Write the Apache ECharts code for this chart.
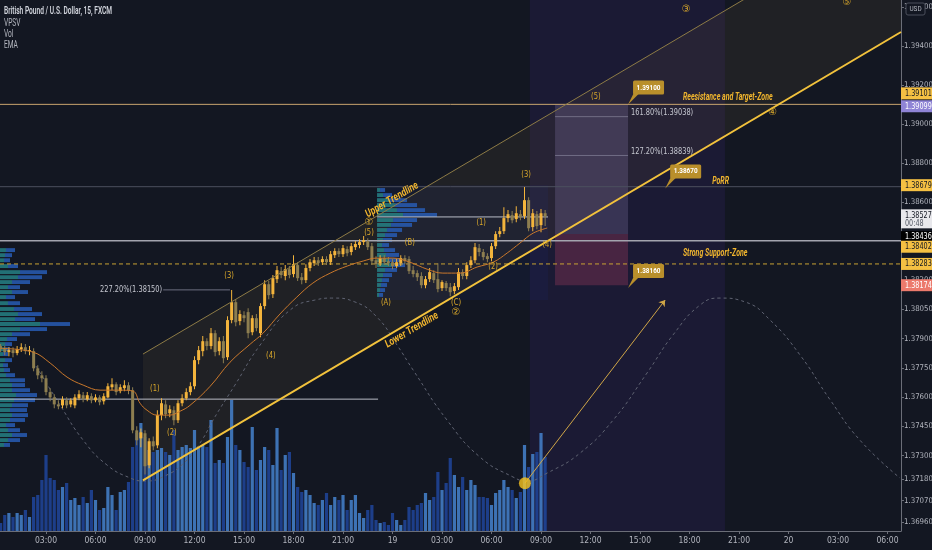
<!DOCTYPE html>
<html>
<head>
<meta charset="utf-8">
<script src="https://cdn.jsdelivr.net/npm/echarts@6/dist/echarts.min.js"></script>
<style>
  html, body { margin: 0; padding: 0; background: #131722; }
  #chart { width: 932px; height: 550px; }
</style>
</head>
<body>
<div id="chart"></div>
<script>
// GBP/USD, 15-minute bars. Bar index = quarter hours since 00:00 on the 18th.
// Each bar: [open, high, low, close]
const bars15m = [
  [1.37851,1.37877,1.37836,1.37862],[1.37862,1.37872,1.37831,1.37846],[1.37846,1.37862,1.37815,1.37831],
  [1.37831,1.37856,1.37810,1.37841],[1.37841,1.37856,1.37805,1.37826],[1.37826,1.37862,1.37815,1.37846],
  [1.37846,1.37877,1.37831,1.37856],[1.37856,1.37872,1.37820,1.37836],[1.37836,1.37862,1.37815,1.37841],
  [1.37836,1.37851,1.37733,1.37748],[1.37748,1.37764,1.37692,1.37712],[1.37712,1.37733,1.37677,1.37697],
  [1.37697,1.37712,1.37610,1.37626],[1.37626,1.37646,1.37579,1.37599],[1.37599,1.37615,1.37543,1.37563],
  [1.37563,1.37584,1.37538,1.37553],[1.37558,1.37605,1.37543,1.37589],[1.37584,1.37599,1.37543,1.37558],
  [1.37563,1.37594,1.37548,1.37584],[1.37558,1.37615,1.37543,1.37599],[1.37594,1.37636,1.37584,1.37615],
  [1.37610,1.37626,1.37574,1.37589],[1.37589,1.37626,1.37579,1.37610],[1.37605,1.37620,1.37569,1.37584],
  [1.37584,1.37615,1.37574,1.37599],[1.37599,1.37610,1.37558,1.37574],[1.37579,1.37620,1.37563,1.37605],
  [1.37599,1.37672,1.37594,1.37656],[1.37651,1.37697,1.37636,1.37666],[1.37666,1.37677,1.37610,1.37626],
  [1.37631,1.37666,1.37620,1.37651],[1.37646,1.37687,1.37631,1.37661],[1.37661,1.37677,1.37615,1.37636],
  [1.37636,1.37651,1.37415,1.37430],[1.37430,1.37451,1.37353,1.37379],[1.37389,1.37440,1.37343,1.37420],
  [1.37415,1.37430,1.37204,1.37246],[1.37251,1.37389,1.37236,1.37374],[1.37374,1.37399,1.37328,1.37348],
  [1.37353,1.37533,1.37338,1.37508],[1.37508,1.37594,1.37482,1.37569],[1.37563,1.37584,1.37492,1.37513],
  [1.37518,1.37558,1.37497,1.37538],[1.37533,1.37553,1.37456,1.37482],[1.37482,1.37584,1.37467,1.37569],
  [1.37569,1.37615,1.37553,1.37594],[1.37594,1.37646,1.37584,1.37626],[1.37626,1.37677,1.37610,1.37656],
  [1.37656,1.37810,1.37641,1.37790],[1.37790,1.37862,1.37769,1.37841],[1.37836,1.37913,1.37810,1.37887],
  [1.37887,1.37902,1.37841,1.37862],[1.37862,1.37954,1.37846,1.37928],[1.37928,1.37943,1.37810,1.37831],
  [1.37836,1.37907,1.37815,1.37887],[1.37887,1.37913,1.37774,1.37800],[1.37805,1.38015,1.37790,1.37995],
  [1.37995,1.38149,1.37979,1.38087],[1.38087,1.38102,1.37964,1.37984],[1.37990,1.38046,1.37969,1.38026],
  [1.38020,1.38041,1.37984,1.38005],[1.38036,1.38056,1.37902,1.37928],[1.37933,1.38020,1.37918,1.38005],
  [1.38005,1.38026,1.37938,1.37954],[1.37928,1.38082,1.37907,1.38067],[1.38067,1.38200,1.38051,1.38179],
  [1.38179,1.38195,1.38102,1.38123],[1.38128,1.38226,1.38108,1.38210],[1.38205,1.38272,1.38185,1.38251],
  [1.38246,1.38267,1.38210,1.38226],[1.38221,1.38277,1.38200,1.38256],[1.38256,1.38272,1.38210,1.38226],
  [1.38231,1.38328,1.38215,1.38282],[1.38277,1.38292,1.38195,1.38210],[1.38215,1.38236,1.38179,1.38200],
  [1.38200,1.38282,1.38185,1.38262],[1.38262,1.38308,1.38246,1.38292],[1.38287,1.38318,1.38272,1.38302],
  [1.38302,1.38318,1.38272,1.38287],[1.38292,1.38323,1.38277,1.38308],[1.38308,1.38323,1.38277,1.38292],
  [1.38292,1.38349,1.38277,1.38333],[1.38328,1.38364,1.38313,1.38349],[1.38349,1.38364,1.38318,1.38333],
  [1.38333,1.38380,1.38318,1.38364],[1.38359,1.38374,1.38323,1.38338],[1.38344,1.38390,1.38328,1.38374],
  [1.38369,1.38400,1.38354,1.38385],[1.38380,1.38410,1.38364,1.38395],[1.38395,1.38426,1.38380,1.38405],
  [1.38400,1.38415,1.38354,1.38369],[1.38374,1.38390,1.38277,1.38297],[1.38302,1.38323,1.38262,1.38282],
  [1.38287,1.38328,1.38272,1.38313],[1.38313,1.38328,1.38277,1.38292],[1.38297,1.38318,1.38272,1.38287],
  [1.38292,1.38308,1.38256,1.38272],[1.38272,1.38308,1.38262,1.38292],[1.38287,1.38328,1.38272,1.38313],
  [1.38313,1.38328,1.38282,1.38297],[1.38308,1.38323,1.38231,1.38246],[1.38251,1.38272,1.38215,1.38231],
  [1.38236,1.38251,1.38195,1.38215],[1.38221,1.38241,1.38159,1.38174],[1.38174,1.38221,1.38159,1.38205],
  [1.38205,1.38262,1.38190,1.38241],[1.38236,1.38251,1.38185,1.38200],[1.38205,1.38287,1.38138,1.38154],
  [1.38159,1.38200,1.38144,1.38190],[1.38185,1.38195,1.38144,1.38159],[1.38164,1.38185,1.38118,1.38138],
  [1.38144,1.38185,1.38128,1.38169],[1.38164,1.38262,1.38149,1.38241],[1.38241,1.38256,1.38205,1.38221],
  [1.38221,1.38292,1.38205,1.38277],[1.38277,1.38323,1.38262,1.38302],[1.38302,1.38390,1.38287,1.38369],
  [1.38364,1.38385,1.38323,1.38344],[1.38344,1.38359,1.38302,1.38318],[1.38323,1.38338,1.38292,1.38308],
  [1.38313,1.38390,1.38297,1.38374],[1.38374,1.38451,1.38359,1.38436],[1.38436,1.38472,1.38420,1.38451],
  [1.38451,1.38574,1.38436,1.38518],[1.38518,1.38559,1.38497,1.38538],[1.38533,1.38554,1.38492,1.38507],
  [1.38513,1.38579,1.38497,1.38543],[1.38538,1.38559,1.38507,1.38523],[1.38528,1.38677,1.38513,1.38610],
  [1.38610,1.38625,1.38451,1.38466],[1.38472,1.38564,1.38451,1.38543],[1.38538,1.38554,1.38461,1.38477],
  [1.38482,1.38564,1.38446,1.38543],[1.38543,1.38559,1.38477,1.38527]
];

// Tick volume per bar
const volumes = [
  110,80,160,180,140,180,160,210,140,340,360,510,760,530,510,410,440,480,310,330,
  260,340,280,410,310,210,230,440,360,210,390,410,490,840,980,1080,940,810,790,810,
  830,790,760,1010,810,840,860,830,1010,830,860,840,1110,680,710,680,940,1310,860,810,
  690,640,1040,610,710,840,810,660,1030,610,760,790,580,440,390,410,360,280,260,310,
  380,260,340,310,360,210,310,360,180,130,210,260,110,80,90,60,180,110,60,110,
  240,210,260,280,380,310,340,590,410,480,730,560,440,540,410,510,460,340,340,330,
  260,380,410,510,440,410,330,390,860,640,770,790,980,740
];

// EMA readings [bar index, price]
const emaPoints = [
  [1,1.37850],[8.85,1.37831],[13,1.37775],[17.1,1.37703],[21,1.37662],[25.1,1.37636],[29.9,1.37636],
  [33.1,1.37631],[34.8,1.37569],[36.5,1.37533],[38.9,1.37508],[42,1.37508],[44.5,1.37528],[46.9,1.37558],
  [51.8,1.37656],[56.6,1.37779],[61.5,1.37872],[64.6,1.37928],[68.7,1.38026],[72.8,1.38113],[76.7,1.38185],
  [80.9,1.38236],[85,1.38272],[88.9,1.38298],[92.2,1.38313],[96.1,1.38313],[100.2,1.38292],[104.4,1.38256],
  [108.2,1.38236],[112.4,1.38236],[116.5,1.38267],[120.4,1.38292],[123.8,1.38339],[126.9,1.38390],
  [130.1,1.38441],[133.5,1.38467]
];

// Cycle (sine wave) drawing, read as [bar index, price]
const cyclePoints = [
  [8.85,1.37785],[15.4,1.37560],[21,1.37380],[26.8,1.37252],[32.4,1.37186],[36,1.37170],[40.8,1.37196],
  [45.7,1.37268],[49.8,1.37380],[52.5,1.37483],[57.8,1.37662],[63.9,1.37867],[71.2,1.38047],[77.2,1.38098],
  [81.6,1.38108],[86.9,1.38088],[92.2,1.38011],[97.1,1.37867],[101,1.37739],[109.2,1.37483],[117.2,1.37293],
  [125.2,1.37191],[128.6,1.37170],[133.5,1.37211],[141.5,1.37314],[149.5,1.37483],[157.7,1.37724],
  [164,1.37919],[170.6,1.38073],[175.4,1.38108],[181.5,1.38088],[187.5,1.37996],[194.8,1.37816],
  [202.1,1.37586],[209.3,1.37380],[219,1.37186]
];

// Axis ticks
const priceTicks = [1.396,1.394,1.392,1.390,1.388,1.386,1.384,1.382,1.3805,1.379,1.3775,1.376,1.3745,1.373,1.3718,1.3707,1.3696];
const timeTicks = [12,24,36,48,60,72,84,96,108,120,132,144,156,168,180,192,204,216];
const timeTickLabels = ['03:00','06:00','09:00','12:00','15:00','18:00','21:00','19','03:00','06:00','09:00','12:00','15:00','18:00','21:00','20','03:00','06:00'];

// Channel trendlines [bar index, price]
const channelLower = [[35.5,1.37174],[219.27,1.39472]];
const channelUpper = [[35.5,1.37821],[219.27,1.40114]];

// Horizontal levels
const resistanceLevel = 1.39101;
const porrLevel = 1.38679;
const entryZoneLevel = 1.38402;
const supportLevel = 1.38283;

// Visible-range volume profiles: price rows, total volume, up volume
const vpLeftLevels = [1.38354,1.38328,1.38302,1.38272,1.38241,1.38215,1.38190,1.38164,1.38139,1.38113,1.38082,1.38052,1.38026,1.38000,1.37975,1.37949,1.37923,1.37898,1.37872,1.37846,1.37821,1.37790,1.37764,1.37739,1.37713,1.37687,1.37662,1.37636,1.37611,1.37585,1.37559,1.37534,1.37508,1.37483,1.37457,1.37431,1.37406,1.37380,1.37355];
const vpLeftTotal  = [15,12,10,18,47,42,30,20,28,15,20,32,42,35,70,47,30,17,12,10,8,12,8,10,15,25,25,30,37,35,28,27,28,25,15,20,27,20,10];
const vpLeftUp     = [6,5,4,8,20,18,12,8,12,6,8,14,18,15,40,20,12,7,5,4,3,5,3,4,6,10,12,12,16,14,12,10,12,10,6,8,12,8,4];
const vpLeftPoc = 1.37590;
const vpRightLevels = [1.38662,1.38636,1.38610,1.38585,1.38559,1.38534,1.38508,1.38483,1.38457,1.38431,1.38406,1.38380,1.38354,1.38329,1.38303,1.38277,1.38252,1.38226,1.38200,1.38175,1.38149,1.38124];
const vpRightTotal  = [8,15,30,40,48,60,40,35,25,20,15,12,18,22,25,28,20,15,12,10,8,6];
const vpRightUp     = [3,6,12,18,20,26,16,14,10,8,6,5,7,9,12,14,8,6,5,4,3,2];
const vpRightPoc = 1.38524;

// Long position tool
const positionEntry = 1.38436, positionTarget = 1.39099, positionStop = 1.38174;
const positionSpan = [135.4, 153.1];
const fibTargets = [[1.39038,'161.80%'],[1.38839,'127.20%']];
const fibPast = [[40.4,56.6,1.38150,'227.20%']];

// Price callouts [bar index of tip, price]
const callouts = [[153.1,1.39100],[162.1,1.38670],[153.1,1.38160]];

// Elliott wave counts [bar index, price, label]
const waveLabels = [
  [38.4,1.37642,'(1)'],[42.5,1.37416,'(2)'],[56.4,1.38221,'(3)'],[66.5,1.37811,'(4)'],
  [90.3,1.38498,'①'],[90.3,1.38442,'(5)'],[94.4,1.38083,'(A)'],[100.2,1.38390,'(B)'],
  [111.4,1.38083,'(C)'],[111.4,1.38037,'②'],[117.5,1.38493,'(1)'],[120.4,1.38267,'(2)'],
  [128.4,1.38739,'(3)'],[133.5,1.38380,'(4)'],[145.3,1.39139,'(5)'],[167.2,1.39590,'③'],
  [188.2,1.39062,'④'],[206.2,1.39626,'⑤']
];

// Notes
const zoneNotes = [[166.4,1.39134,'Reesistance and Target-Zone'],[173.5,1.38708,'PoRR'],[166.4,1.38334,'Strong Support-Zone']];
const trendNotes = [[95.9,1.38611,'Upper Trendline'],[100.7,1.37944,'Lower Trendline']];

// Projection arrow from the marked low
const projectionArrow = [[128.1,1.37159],[162.1,1.38098]];

// Forecast window shading
const forecastWindow = [129.3, 176.6];

// Right-scale price tags
const axisTags = [1.39101,1.39099,1.38679,1.38527,1.38436,1.38402,1.38283,1.38174];

// ---------------- drawing ----------------
const X_MIN = 0.848, X_MAX = 219.27, P_MIN = 1.36914, P_MAX = 1.39636;
const NARROW = "'Liberation Sans Narrow','DejaVu Sans Condensed','Liberation Sans',sans-serif";
const GOLD = '#f0b52e';

const chart = echarts.init(document.getElementById('chart'), null, { renderer: 'canvas' });

function hLine(price, x0, x1, color, width, type, z) {
  return {
    type: 'line', data: [[x0, price], [x1, price]], showSymbol: false, symbol: 'none', silent: true,
    lineStyle: { color: color, width: width, type: type || 'solid' }, z: z || 3, animation: false
  };
}

function profileSeries(levels, totals, ups, startX) {
  return {
    type: 'custom', coordinateSystem: 'cartesian2d', silent: true, z: 2, clip: true,
    data: levels.map(p => [startX, p]),
    renderItem: (params, api) => {
      const k = params.dataIndex;
      const base = api.coord([startX, levels[k]]);
      const rowH = Math.max(2, api.size([0, 0.000256])[1] * 0.78);
      const upW = ups[k], downW = totals[k] - ups[k];
      return {
        type: 'group', children: [
          { type: 'rect', shape: { x: base[0], y: base[1] - rowH / 2, width: upW, height: rowH }, style: { fill: 'rgba(38,128,132,0.85)' } },
          { type: 'rect', shape: { x: base[0] + upW, y: base[1] - rowH / 2, width: downW, height: rowH }, style: { fill: 'rgba(40,92,180,0.85)' } }
        ]
      };
    }
  };
}

const series = [];

// Forecast window band
series.push({
  type: 'custom', coordinateSystem: 'cartesian2d', silent: true, z: 0, clip: true, data: [[forecastWindow[0], P_MAX]],
  renderItem: (params, api) => {
    const a = api.coord([forecastWindow[0], P_MAX]), b = api.coord([forecastWindow[1], P_MIN]);
    return { type: 'rect', shape: { x: a[0], y: a[1], width: b[0] - a[0], height: b[1] - a[1] }, style: { fill: 'rgba(80,50,160,0.14)' } };
  }
});

// Channel fill
series.push({
  type: 'custom', coordinateSystem: 'cartesian2d', silent: true, z: 0, clip: true, data: [channelLower[0]],
  renderItem: (params, api) => {
    const pts = [channelUpper[0], channelLower[0], channelLower[1], channelUpper[1]].map(p => api.coord(p));
    return { type: 'polygon', shape: { points: pts }, style: { fill: 'rgba(130,105,65,0.12)' } };
  }
});

// Right profile backdrop
series.push({
  type: 'custom', coordinateSystem: 'cartesian2d', silent: true, z: 0, clip: true, data: [[92.25, 1.38687]],
  renderItem: (params, api) => {
    const a = api.coord([92.25, 1.38687]), b = api.coord([133.7, 1.38098]);
    return { type: 'rect', shape: { x: a[0], y: a[1], width: b[0] - a[0], height: b[1] - a[1] }, style: { fill: 'rgba(40,70,190,0.08)' } };
  }
});

// Volume bars
series.push({
  type: 'custom', coordinateSystem: 'cartesian2d', yAxisIndex: 1, silent: true, z: 1, clip: true,
  data: volumes.map((v, i) => [i, v]),
  renderItem: (params, api) => {
    const i = api.value(0);
    const top = api.coord([i, api.value(1)]), bot = api.coord([i, 0]);
    const b = bars15m[i];
    const up = b[3] >= b[0];
    return { type: 'rect', shape: { x: top[0] - 1.6, y: top[1], width: 3.2, height: bot[1] - top[1] }, style: { fill: up ? 'rgba(66,124,196,0.9)' : 'rgba(30,66,146,0.92)' } };
  }
});

// Volume profiles
series.push(profileSeries(vpLeftLevels, vpLeftTotal, vpLeftUp, X_MIN));
series.push(profileSeries(vpRightLevels, vpRightTotal, vpRightUp, 92.25));
series.push(hLine(vpLeftPoc, X_MIN, 92.5, '#b9bcc6', 1, 'solid', 3));
series.push(hLine(vpRightPoc, 92.25, 133.7, '#b9bcc6', 1, 'solid', 3));

// Position tool boxes
series.push({
  type: 'custom', coordinateSystem: 'cartesian2d', silent: true, z: 1, clip: true, data: [[positionSpan[0], positionEntry]],
  renderItem: (params, api) => {
    const t = api.coord([positionSpan[0], positionTarget]), e = api.coord([positionSpan[1], positionEntry]);
    const s = api.coord([positionSpan[1], positionStop]);
    return {
      type: 'group', children: [
        { type: 'rect', shape: { x: t[0], y: t[1], width: e[0] - t[0], height: e[1] - t[1] }, style: { fill: 'rgba(125,112,160,0.30)' } },
        { type: 'rect', shape: { x: t[0], y: e[1], width: e[0] - t[0], height: s[1] - e[1] }, style: { fill: 'rgba(190,70,105,0.28)' } }
      ]
    };
  }
});

// Fib extension lines and labels
series.push({
  type: 'custom', coordinateSystem: 'cartesian2d', silent: true, z: 4, clip: false, data: fibTargets.map(f => [positionSpan[1], f[0]]),
  renderItem: (params, api) => {
    const f = fibTargets[params.dataIndex];
    const a = api.coord([positionSpan[0], f[0]]), b = api.coord([positionSpan[1], f[0]]);
    return {
      type: 'group', children: [
        { type: 'line', shape: { x1: a[0], y1: a[1], x2: b[0], y2: b[1] }, style: { stroke: 'rgba(170,170,190,0.45)', lineWidth: 1 } },
        { type: 'text', x: b[0] + 3, y: b[1] - 4, scaleX: 0.82, style: { text: f[1] + '(' + f[0].toFixed(5) + ')', fill: '#c5c7d0', font: '9px ' + NARROW, align: 'left', verticalAlign: 'middle' } }
      ]
    };
  }
});
series.push({
  type: 'custom', coordinateSystem: 'cartesian2d', silent: true, z: 4, clip: false, data: fibPast.map(f => [f[0], f[2]]),
  renderItem: (params, api) => {
    const f = fibPast[params.dataIndex];
    const a = api.coord([f[0], f[2]]), b = api.coord([f[1], f[2]]);
    return {
      type: 'group', children: [
        { type: 'line', shape: { x1: a[0], y1: a[1], x2: b[0], y2: b[1] }, style: { stroke: 'rgba(170,170,190,0.6)', lineWidth: 1 } },
        { type: 'text', x: a[0] - 1, y: a[1], scaleX: 0.82, style: { text: f[3] + '(' + f[2].toFixed(5) + ')', fill: '#c5c7d0', font: '9px ' + NARROW, align: 'right', verticalAlign: 'middle' } }
      ]
    };
  }
});

// Cycle curve
series.push({
  type: 'line', data: cyclePoints, smooth: 0.5, showSymbol: false, symbol: 'none', silent: true, z: 2,
  lineStyle: { color: '#5f6372', width: 1, type: [3, 3] }, animation: false
});

// Horizontal levels
series.push(hLine(resistanceLevel, X_MIN, X_MAX, '#c9a46e', 1, 'solid', 3));
series.push(hLine(porrLevel, X_MIN, X_MAX, '#4c4f5e', 1, 'solid', 3));
series.push(hLine(entryZoneLevel, X_MIN, X_MAX, '#a3a4ae', 1.4, 'solid', 3));
series.push(hLine(supportLevel, X_MIN, X_MAX, '#c8a232', 1, [4, 3], 3));

// Candles
series.push({
  type: 'custom', coordinateSystem: 'cartesian2d', silent: true, z: 5, clip: true,
  data: bars15m.map((b, i) => [i, b[0], b[1], b[2], b[3]]),
  renderItem: (params, api) => {
    const i = api.value(0), o = api.value(1), h = api.value(2), l = api.value(3), c = api.value(4);
    const pO = api.coord([i, o]), pC = api.coord([i, c]), pH = api.coord([i, h]), pL = api.coord([i, l]);
    const up = c >= o;
    const col = up ? '#f3b43c' : '#8d7e50';
    const x = pO[0];
    const top = Math.min(pO[1], pC[1]);
    const bh = Math.max(1, Math.abs(pO[1] - pC[1]));
    return {
      type: 'group', children: [
        { type: 'rect', shape: { x: x - 0.5, y: pH[1], width: 1, height: pL[1] - pH[1] }, style: { fill: col } },
        { type: 'rect', shape: { x: x - 1.5, y: top, width: 3, height: bh }, style: { fill: col } }
      ]
    };
  }
});

// EMA
series.push({
  type: 'line', data: emaPoints, smooth: 0.4, showSymbol: false, symbol: 'none', silent: true, z: 6,
  lineStyle: { color: '#c9782c', width: 1 }, animation: false
});

// Trendlines
series.push({
  type: 'line', data: channelUpper, showSymbol: false, symbol: 'none', silent: true, z: 6,
  lineStyle: { color: '#8d7b46', width: 1 }, animation: false
});
series.push({
  type: 'line', data: channelLower, showSymbol: false, symbol: 'none', silent: true, z: 7,
  lineStyle: { color: '#f2c23c', width: 2 }, animation: false
});

// Projection arrow and marked low
series.push({
  type: 'lines', coordinateSystem: 'cartesian2d', silent: true, z: 7,
  symbol: ['none', 'arrow'], symbolSize: 6,
  lineStyle: { color: '#cfa547', width: 1, opacity: 1 },
  data: [{ coords: projectionArrow }], animation: false
});
series.push({
  type: 'scatter', data: [projectionArrow[0]], symbolSize: 12, silent: true, z: 8,
  itemStyle: { color: '#f7c31d' }, animation: false
});

// Wave counts
series.push({
  type: 'custom', coordinateSystem: 'cartesian2d', silent: true, z: 8, clip: false,
  data: waveLabels.map(w => [w[0], w[1]]),
  renderItem: (params, api) => {
    const w = waveLabels[params.dataIndex];
    const p = api.coord([w[0], w[1]]);
    const circled = w[2].length === 1;
    return {
      type: 'text', x: p[0], y: p[1], scaleX: circled ? 1 : 0.85,
      style: { text: w[2], fill: '#d8a72b', font: (circled ? '10px ' : '8px ') + "'DejaVu Sans',sans-serif", align: 'center', verticalAlign: 'middle' }
    };
  }
});

// Zone notes
series.push({
  type: 'custom', coordinateSystem: 'cartesian2d', silent: true, z: 8, clip: false,
  data: zoneNotes.map(n => [n[0], n[1]]),
  renderItem: (params, api) => {
    const n = zoneNotes[params.dataIndex];
    const p = api.coord([n[0], n[1]]);
    return {
      type: 'text', x: p[0], y: p[1], scaleX: 0.7,
      style: { text: n[2], fill: GOLD, font: 'italic bold 10px Roboto', align: 'left', verticalAlign: 'middle' }
    };
  }
});

// Trendline notes, rotated along the channel
series.push({
  type: 'custom', coordinateSystem: 'cartesian2d', silent: true, z: 8, clip: false,
  data: trendNotes.map(n => [n[0], n[1]]),
  renderItem: (params, api) => {
    const n = trendNotes[params.dataIndex];
    const p = api.coord([n[0], n[1]]);
    const a = api.coord(channelLower[0]), b = api.coord(channelLower[1]);
    const ang = Math.atan2(a[1] - b[1], b[0] - a[0]);
    return {
      type: 'text', x: p[0], y: p[1], rotation: ang, scaleX: 0.78,
      style: { text: n[2], fill: GOLD, font: 'italic bold 11px Roboto', align: 'center', verticalAlign: 'middle' }
    };
  }
});

// Price callouts
series.push({
  type: 'custom', coordinateSystem: 'cartesian2d', silent: true, z: 9, clip: false,
  data: callouts.map(c => [c[0], c[1]]),
  renderItem: (params, api) => {
    const c = callouts[params.dataIndex];
    const t = api.coord([c[0], c[1]]);
    return {
      type: 'group', children: [
        { type: 'polygon', shape: { points: [[t[0], t[1]], [t[0] + 6, t[1] - 12], [t[0] + 12, t[1] - 12]] }, style: { fill: '#b98f2b' } },
        { type: 'rect', shape: { x: t[0] + 5, y: t[1] - 24, width: 31, height: 14, r: 1.5 }, style: { fill: '#b98f2b' } },
        { type: 'text', x: t[0] + 20.5, y: t[1] - 17, scaleX: 0.8, style: { text: c[1].toFixed(5), fill: '#ffffff', font: 'bold 8px Roboto', align: 'center', verticalAlign: 'middle' } }
      ]
    };
  }
});

// Right-scale price tags (stacked so neighbours do not overlap)
const tagNudge = [-11, 1.5, -1.5, 0, 3, 6, 0, 0];
const tagFill = ['#f5c043', '#8f84d6', '#f5c043', '#e8e8ec', '#000000', '#f5c043', '#f5c043', '#ec7a6c'];
const tagInk = ['#131722', '#ffffff', '#131722', '#131722', '#ffffff', '#131722', '#131722', '#ffffff'];
series.push({
  type: 'custom', coordinateSystem: 'cartesian2d', silent: true, z: 20, clip: false,
  data: axisTags.map(v => [X_MAX, v]),
  renderItem: (params, api) => {
    const k = params.dataIndex;
    const p = api.coord([X_MAX, axisTags[k]]);
    const y = p[1] + tagNudge[k];
    const x = p[0];
    const kids = [];
    const txt = (s, ty, col) => ({ type: 'text', x: x + 4, y: ty, scaleX: 0.8, style: { text: s, fill: col, font: '9px ' + NARROW, align: 'left', verticalAlign: 'middle' } });
    if (k === 3) {
      kids.push({ type: 'rect', shape: { x: x, y: y - 7, width: 32, height: 19 }, style: { fill: tagFill[k] } });
      kids.push(txt(axisTags[k].toFixed(5), y - 1, tagInk[k]));
      kids.push(txt('00:48', y + 7, '#555a66'));
    } else {
      kids.push({ type: 'rect', shape: { x: x, y: y - 6, width: 32, height: 12 }, style: { fill: tagFill[k] } });
      kids.push(txt(axisTags[k].toFixed(5), y, tagInk[k]));
    }
    return { type: 'group', children: kids };
  }
});

const option = {
  backgroundColor: '#131722',
  animation: false,
  grid: { left: 0, right: 31, top: 0, bottom: 19, containLabel: false, outerBoundsMode: 'none' },
  xAxis: {
    type: 'value', min: X_MIN, max: X_MAX,
    axisLine: { show: true, lineStyle: { color: '#6b6e78', width: 1 } },
    axisTick: { show: true, customValues: timeTicks, length: 3, lineStyle: { color: '#6b6e78' } },
    axisLabel: {
      customValues: timeTicks, color: '#b2b5be', fontSize: 8.5, fontFamily: NARROW, margin: 5,
      formatter: v => timeTickLabels[timeTicks.indexOf(v)] || ''
    },
    splitLine: { show: false }
  },
  yAxis: [
    {
      type: 'value', position: 'right', min: P_MIN, max: P_MAX,
      axisLine: { show: true, lineStyle: { color: '#6b6e78', width: 1 } },
      axisTick: { show: true, customValues: priceTicks, length: 3, lineStyle: { color: '#6b6e78' } },
      axisLabel: {
        customValues: priceTicks, color: '#b2b5be', fontSize: 7.8, fontFamily: NARROW, margin: 3,
        formatter: v => v.toFixed(5)
      },
      splitLine: { show: false }
    },
    { type: 'value', min: 0, max: 5310, show: false, splitLine: { show: false } }
  ],
  graphic: [
    { type: 'text', x: 4, y: 6, scaleX: 0.66, z: 30, style: { text: 'British Pound / U.S. Dollar, 15, FXCM', fill: '#d1d4dc', font: '600 10px Roboto' } },
    { type: 'text', x: 4, y: 18, scaleX: 0.66, z: 30, style: { text: 'VPSV', fill: '#b2b5be', font: '10px Roboto' } },
    { type: 'text', x: 4, y: 29, scaleX: 0.66, z: 30, style: { text: 'Vol', fill: '#b2b5be', font: '10px Roboto' } },
    { type: 'text', x: 4, y: 40, scaleX: 0.66, z: 30, style: { text: 'EMA', fill: '#b2b5be', font: '10px Roboto' } },
    { type: 'rect', x: 906, y: 3, z: 30, shape: { width: 19, height: 12, r: 2 }, style: { fill: '#131722', stroke: '#4a4e5a', lineWidth: 1 } },
    { type: 'text', x: 915.5, y: 9, z: 31, scaleX: 0.8, style: { text: 'USD', fill: '#b2b5be', font: '8px Roboto', align: 'center', verticalAlign: 'middle' } }
  ],
  series: series
};

chart.setOption(option);
</script>
</body>
</html>
